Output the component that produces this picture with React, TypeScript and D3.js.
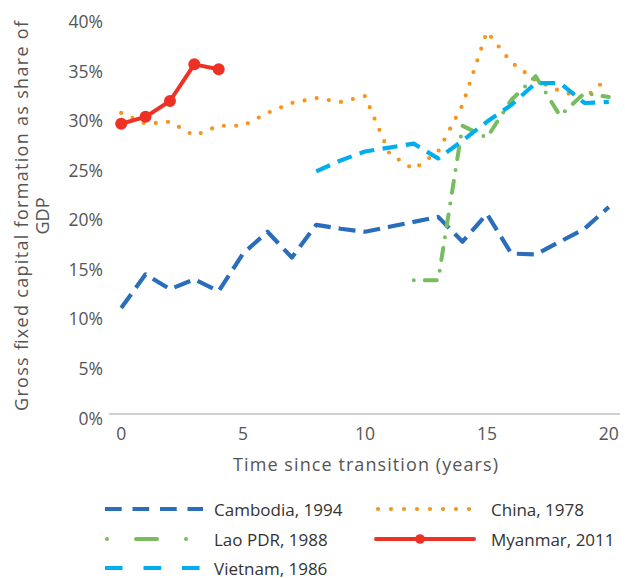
import React from "react";
import * as d3 from "d3";

const years = d3.range(0, 21);
const cambodia: (number | null)[] = [10.7, 14.1, 12.6, 13.6, 12.4, 16.2, 18.4, 15.8, 19.1, 18.7, 18.4, 18.9, 19.4, 19.9, 17.4, 20.2, 16.2, 16.1, 17.4, 18.7, 20.9];
const china: (number | null)[] = [30.4, 29.3, 29.5, 28.1, 29.1, 29.1, 30.4, 31.4, 31.9, 31.5, 32.1, 26.3, 24.7, 26.5, 31.2, 38.6, 35.5, 33.7, 32.6, 31.9, 34.0];
const lao: (number | null)[] = [null, null, null, null, null, null, null, null, null, null, null, null, 13.5, 13.5, 29.1, 27.9, 31.7, 34.1, 30.1, 32.4, 32.0];
const myanmar: (number | null)[] = [29.3, 30.0, 31.6, 35.3, 34.8, null, null, null, null, null, null, null, null, null, null, null, null, null, null, null, null];
const vietnam: (number | null)[] = [null, null, null, null, null, null, null, null, 24.5, 25.6, 26.5, 26.9, 27.3, 25.8, 27.6, 29.5, 31.2, 33.4, 33.4, 31.4, 31.5];

const yTicks = [0, 5, 10, 15, 20, 25, 30, 35, 40];
const xTicks = [0, 5, 10, 15, 20];

const FONT = "'Open Sans', 'Noto Sans', sans-serif";

type S = {
  name: string;
  values: (number | null)[];
  color: string;
  dash: string;
  legendDash: string;
  cap: string;
  width: number;
  markers?: boolean;
  col: number;
  row: number;
};

const series: S[] = [
  { name: "Cambodia, 1994", values: cambodia, color: "#2a6ebb", dash: "17,8", legendDash: "16.7,10.8", cap: "butt", width: 4.2, col: 0, row: 0 },
  { name: "China, 1978", values: china, color: "#f7941d", dash: "0,12.3", legendDash: "0,13", cap: "round", width: 4.2, col: 1, row: 0 },
  { name: "Lao PDR, 1988", values: lao, color: "#77bc5f", dash: "0,11,12,11", legendDash: "0,29,21,29,0,200", cap: "round", width: 4, col: 0, row: 1 },
  { name: "Myanmar, 2011", values: myanmar, color: "#ee3124", dash: "", legendDash: "", cap: "round", width: 4, markers: true, col: 1, row: 1 },
  { name: "Vietnam, 1986", values: vietnam, color: "#00aeef", dash: "15,8.5", legendDash: "17.5,21", cap: "butt", width: 4.2, col: 0, row: 2 },
];

export default function App() {
  const W = 625, H = 578;
  const x = d3.scaleLinear().domain([-0.5, 20.5]).range([109, 621]);
  const y = d3.scaleLinear().domain([0, 40]).range([414, 17.8]);

  const line = d3
    .line<number | null>()
    .defined((d) => d !== null)
    .x((_, i) => x(years[i]))
    .y((d) => y(d as number));

  const legendCols = [
    { x0: 105, x1: 203, tx: 214 },
    { x0: 376, x1: 474, tx: 491 },
  ];
  const rowY = [509, 539, 568];

  return (
    <svg
      width={W}
      height={H}
      style={{ position: "absolute", left: 0, top: 0, background: "#fff" }}
      fontFamily={FONT}
    >
      <line x1={109} x2={620} y1={y(0)} y2={y(0)} stroke="#d0d0d0" strokeWidth={1.8} />

      {yTicks.map((t) => (
        <text key={t} x={103} y={y(t) + 3.5} textAnchor="end" dominantBaseline="central" fontSize={17.5} fill="#555">
          {t}%
        </text>
      ))}
      {xTicks.map((t) => (
        <text key={t} x={x(t)} y={433} textAnchor="middle" dominantBaseline="central" fontSize={17.5} fill="#555">
          {t}
        </text>
      ))}

      <text x={365.5} y={464} textAnchor="middle" dominantBaseline="central" fontSize={18} fill="#555" textLength={265} lengthAdjust="spacing">
        Time since transition (years)
      </text>
      <g transform="translate(21,216) rotate(-90)">
        <text x={0} y={0} textAnchor="middle" dominantBaseline="central" fontSize={18} fill="#555" textLength={390} lengthAdjust="spacing">
          Gross fixed capital formation as share of
        </text>
        <text x={0} y={21} textAnchor="middle" dominantBaseline="central" fontSize={18} fill="#555">
          GDP
        </text>
      </g>

      {series.map((s) => (
        <g key={s.name}>
          <path
            d={line(s.values) || ""}
            fill="none"
            stroke={s.color}
            strokeWidth={s.width}
            strokeDasharray={s.dash || undefined}
            strokeLinecap={s.cap as any}
            strokeLinejoin="round"
          />
          {s.markers &&
            s.values.map((v, i) =>
              v === null ? null : <circle key={i} cx={x(years[i])} cy={y(v)} r={6} fill={s.color} />
            )}
        </g>
      ))}

      {series.map((s) => {
        const c = legendCols[s.col];
        const ly = rowY[s.row];
        const lx0 = s.name.startsWith("China") ? 378 : s.name.startsWith("Lao") ? 107 : c.x0;
        return (
          <g key={"lg" + s.name}>
            <line
              x1={lx0}
              x2={c.x1}
              y1={ly}
              y2={ly}
              stroke={s.color}
              strokeWidth={s.width}
              strokeDasharray={s.legendDash || undefined}
              strokeLinecap={s.cap as any}
            />
            {s.markers && <circle cx={420} cy={ly} r={4.8} fill={s.color} />}
            <text x={c.tx} y={ly} dominantBaseline="central" fontSize={17} fill="#333">
              {s.name}
            </text>
          </g>
        );
      })}
    </svg>
  );
}
